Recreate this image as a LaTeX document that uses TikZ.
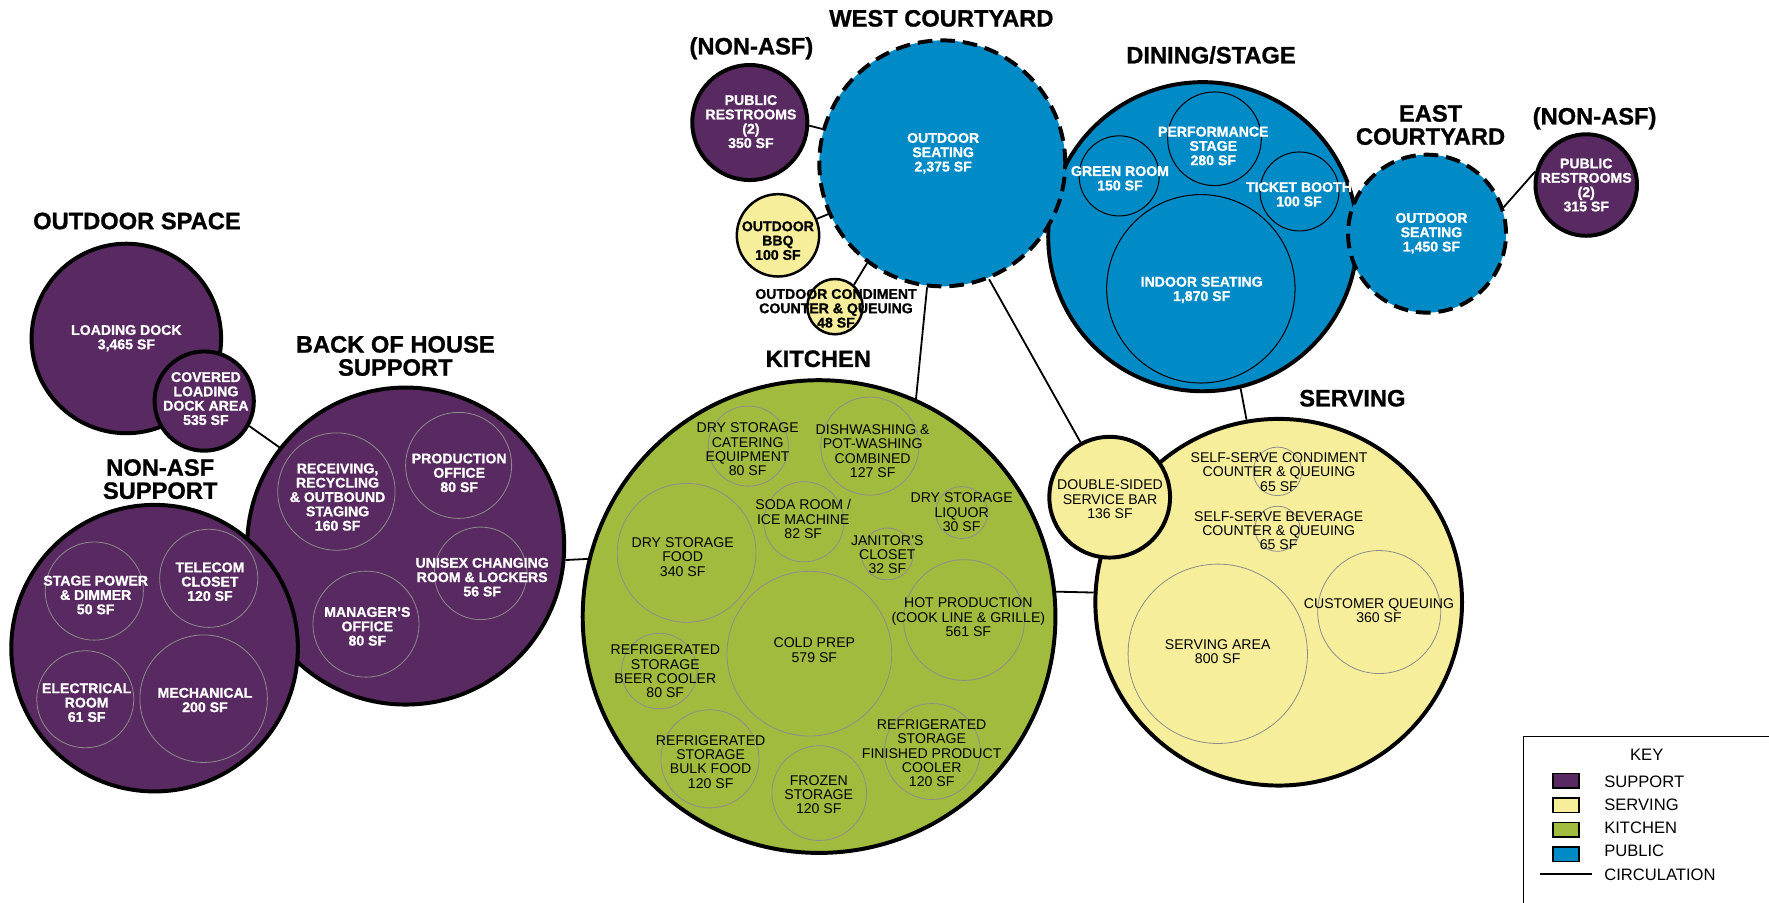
\documentclass[tikz,border=0pt]{standalone}
\usepackage{fontspec}
\setmainfont{Liberation Sans}[BoldFeatures={FakeBold=1}]
\usetikzlibrary{positioning}

\definecolor{supportpurple}{HTML}{592A61}
\definecolor{servingyellow}{HTML}{F7EE9B}
\definecolor{kitchengreen}{HTML}{A1BB3E}
\definecolor{publicblue}{HTML}{008AC6}
\definecolor{roomgray}{HTML}{8C8C8C}

\begin{document}
\begin{tikzpicture}
[x=1pt, y=-1pt,
link/.style={line width=1.6pt},
zone/.style={
  circle, draw=black, line width=3.5pt, inner sep=0pt
  }
]

\tikzstyle{supportzone}  =  [zone, fill=supportpurple]
\tikzstyle{servezone}  =  [zone, fill=servingyellow]
\tikzstyle{kitchenzone}  =  [zone, fill=kitchengreen]
\tikzstyle{publiczone}  =  [zone, fill=publicblue]
\tikzstyle{courtyard}  =  [publiczone, dash pattern=on 13pt off 7pt]
\tikzstyle{smallzone}  =  [servezone, line width=2.2pt]
\tikzstyle{room}  =  [circle, draw=roomgray, line width=0.7pt, inner sep=0pt]
\tikzstyle{publicroom}  =  [circle, draw=black, line width=0.9pt, inner sep=0pt]
\tikzstyle{wtext}  =  [align=center, inner sep=0pt, text=white, font=\fontsize{12.5}{12.7}\selectfont\bfseries]
\tikzstyle{btext}  =  [wtext, text=black]
\tikzstyle{ntext}  =  [align=center, inner sep=0pt, font=\fontsize{12.5}{12.7}\selectfont]
\tikzstyle{areatitle}  =  [align=center, inner sep=0pt, font=\fontsize{21}{20.5}\selectfont\bfseries]
\tikzstyle{keytext}  =  [inner sep=0pt, anchor=west, font=\fontsize{14.7}{15}\selectfont]
\tikzstyle{swatch}  =  [rectangle, draw=black, line width=1.5pt, minimum width=23pt, minimum height=13pt, inner sep=0pt]

\useasboundingbox (0,0) rectangle (1568,800);
\clip (0,0) rectangle (1568,800);

% outdoor space
\node[supportzone, minimum size=168pt] (dock) at (112,300) {};
\node[supportzone, minimum size=88pt] (covered) at (181,355.5) {};

% back of house
\node[supportzone, minimum size=281pt] (boh) at (359.6,484) {};
\node[room, minimum size=104pt] (recv) at (298.2,435.7) {};
\node[room, minimum size=94pt] (prodoff) at (406.5,412.5) {};
\node[room, minimum size=82pt] (unisex) at (426,508.2) {};
\node[room, minimum size=94pt] (mgr) at (324.4,553.2) {};

% non-asf support
\node[supportzone, minimum size=254pt] (nonasf) at (137,574.5) {};
\node[room, minimum size=87pt] (stagepwr) at (83.6,523.9) {};
\node[room, minimum size=87pt] (telecom) at (185,512.6) {};
\node[room, minimum size=86pt] (elec) at (75.6,619.8) {};
\node[room, minimum size=113pt] (mech) at (180.5,619.3) {};

% kitchen
\node[kitchenzone, minimum size=419pt] (kitchen) at (726,546.5) {};
\node[room, minimum size=71pt] (catering) at (663.3,395.4) {};
\node[room, minimum size=87pt] (dishwash) at (771,395.4) {};
\node[room, minimum size=123pt] (dryfood) at (608.6,490) {};
\node[room, minimum size=71pt] (soda) at (712.6,462.5) {};
\node[room, minimum size=46pt] (liquor) at (852.4,454.3) {};
\node[room, minimum size=46pt] (janitor) at (786.5,491) {};
\node[room, minimum size=146pt] (coldprep) at (717.4,579.4) {};
\node[room, minimum size=107pt] (hotprod) at (854.5,549.6) {};
\node[room, minimum size=67pt] (beer) at (584.4,594.8) {};
\node[room, minimum size=87pt] (bulk) at (629.3,672.6) {};
\node[room, minimum size=84pt] (frozen) at (726.2,703) {};
\node[room, minimum size=85pt] (finished) at (826.4,666.1) {};

% serving
\node[servezone, minimum size=325pt] (serving) at (1133.4,533.8) {};
\node[room, minimum size=43pt] (condiment) at (1132.3,417.8) {};
\node[room, minimum size=40pt] (beverage) at (1132.3,468.7) {};
\node[room, minimum size=159pt] (servarea) at (1079.4,579.5) {};
\node[room, minimum size=109pt] (queue) at (1222.5,542.5) {};
\node[servezone, minimum size=107pt] (bar) at (983.6,440.7) {};

% dining / stage
\node[publiczone, minimum size=274pt] (dining) at (1066.1,209.8) {};
\node[publicroom, minimum size=71pt] (green) at (992,155.9) {};
\node[publicroom, minimum size=83pt] (perf) at (1076.5,123) {};
\node[publicroom, minimum size=70pt] (ticket) at (1151.8,169.7) {};
\node[publicroom, minimum size=167pt] (indoor) at (1064.4,256) {};

% courtyards
\node[courtyard, minimum size=218pt] (westyard) at (835.2,144.8) {};
\node[courtyard, minimum size=140pt] (eastyard) at (1264.9,207.1) {};

\node[supportzone, minimum size=102pt] (restW) at (664.6,108.6) {};
\node[supportzone, minimum size=90pt] (restE) at (1406,164) {};
\node[smallzone, minimum size=73pt] (bbq) at (689.6,208.6) {};
\node[smallzone, minimum size=49pt] (outcond) at (740.1,271.8) {};

%edges

\draw[link] (covered.-29) -- (boh.142);
\draw[link] (boh.-5) -- (kitchen.166);
\draw[link] (kitchen.6) -- (serving.177);
\draw[link] (westyard.263) -- (kitchen.66);
\draw[link] (westyard.-68) -- (bar.118);
\draw[link] (dining.-76) -- (serving.100);
\draw[link] (restW.-3) -- (westyard.164);
\draw[link] (bbq.23) -- (westyard.204);
\draw[link] (outcond.49) -- (westyard.233);
\draw[link] (eastyard.19) -- (restE.165);

% labels
\node[wtext] (dock-t) at (112,299.8) {LOADING DOCK\\3,465 SF};
\node[wtext] (covered-t) at (182.5,353.3) {COVERED\\LOADING\\DOCK AREA\\535 SF};
\node[wtext] (recv-t) at (299.2,440.6) {RECEIVING,\\RECYCLING\\\& OUTBOUND\\STAGING\\160 SF};
\node[wtext] (prodoff-t) at (407,419.1) {PRODUCTION\\OFFICE\\80 SF};
\node[wtext] (unisex-t) at (427.4,511.6) {UNISEX CHANGING\\ROOM \& LOCKERS\\56 SF};
\node[wtext] (mgr-t) at (325.6,555.2) {MANAGER'S\\OFFICE\\80 SF};
\node[wtext] (stagepwr-t) at (84.8,527.4) {STAGE POWER\\\& DIMMER\\50 SF};
\node[wtext] (telecom-t) at (186.1,515.6) {TELECOM\\CLOSET\\120 SF};
\node[wtext] (elec-t) at (76.8,622.8) {ELECTRICAL\\ROOM\\61 SF};
\node[wtext] (mech-t) at (181.7,620.5) {MECHANICAL\\200 SF};

\node[ntext] (catering-t) at (662.7,398.4) {DRY STORAGE\\CATERING\\EQUIPMENT\\80 SF};
\node[ntext] (dishwash-t) at (773.5,400) {DISHWASHING \&\\POT-WASHING\\COMBINED\\127 SF};
\node[ntext] (dryfood-t) at (605.1,493.7) {DRY STORAGE\\FOOD\\340 SF};
\node[ntext] (soda-t) at (712,460.1) {SODA ROOM /\\ICE MACHINE\\82 SF};
\node[ntext] (liquor-t) at (852.4,454) {DRY STORAGE\\LIQUOR\\30 SF};
\node[ntext] (janitor-t) at (786.5,491.6) {JANITOR'S\\CLOSET\\32 SF};
\node[ntext] (coldprep-t) at (721.8,576.4) {COLD PREP\\579 SF};
\node[ntext] (hotprod-t) at (858.3,547.1) {HOT PRODUCTION\\(COOK LINE \& GRILLE)\\561 SF};
\node[ntext] (beer-t) at (589.7,595.3) {REFRIGERATED\\STORAGE\\BEER COOLER\\80 SF};
\node[ntext] (bulk-t) at (629.9,675.3) {REFRIGERATED\\STORAGE\\BULK FOOD\\120 SF};
\node[ntext] (frozen-t) at (725.7,704.3) {FROZEN\\STORAGE\\120 SF};
\node[ntext] (finished-t) at (825.8,667.6) {REFRIGERATED\\STORAGE\\FINISHED PRODUCT\\COOLER\\120 SF};

\node[ntext] (condiment-t) at (1133.7,418.4) {SELF-SERVE CONDIMENT\\COUNTER \& QUEUING\\65 SF};
\node[ntext] (beverage-t) at (1133.4,470.4) {SELF-SERVE BEVERAGE\\COUNTER \& QUEUING\\65 SF};
\node[ntext] (servarea-t) at (1079.3,577.6) {SERVING AREA\\800 SF};
\node[ntext] (queue-t) at (1222.3,541.3) {CUSTOMER QUEUING\\360 SF};
\node[ntext] (bar-t) at (983.9,442.6) {DOUBLE-SIDED\\SERVICE BAR\\136 SF};

\node[wtext] (green-t) at (992.7,158) {GREEN ROOM\\150 SF};
\node[wtext] (perf-t) at (1075.4,129.4) {PERFORMANCE\\STAGE\\280 SF};
\node[wtext] (ticket-t) at (1151.4,172.2) {TICKET BOOTH\\100 SF};
\node[wtext] (indoor-t) at (1065.1,257) {INDOOR SEATING\\1,870 SF};
\node[wtext] (westyard-t) at (836,135.9) {OUTDOOR\\SEATING\\2,375 SF};
\node[wtext] (eastyard-t) at (1268.8,206.8) {OUTDOOR\\SEATING\\1,450 SF};
\node[wtext] (restW-t) at (665.6,107.8) {PUBLIC\\RESTROOMS\\(2)\\350 SF};
\node[wtext] (restE-t) at (1406,164) {PUBLIC\\RESTROOMS\\(2)\\315 SF};
\node[btext] (bbq-t) at (689.5,213.3) {OUTDOOR\\BBQ\\100 SF};
\node[btext] (outcond-t) at (741,273.3) {OUTDOOR CONDIMENT\\COUNTER \& QUEUING\\48 SF};

% titles
\node[areatitle] (outdoor-h) at (121.4,195.9) {OUTDOOR SPACE};
\node[areatitle] (boh-h) at (350.4,315.5) {BACK OF HOUSE\\SUPPORT};
\node[areatitle] (nonasf-h) at (142,424.7) {NON-ASF\\SUPPORT};
\node[areatitle] (kitchen-h) at (725.3,318) {KITCHEN};
\node[areatitle] (restW-h) at (666,42.8) {(NON-ASF)};
\node[areatitle] (westyard-h) at (834.4,16.3) {WEST COURTYARD};
\node[areatitle] (dining-h) at (1073.4,48.8) {DINING/STAGE};
\node[areatitle] (eastyard-h) at (1268,110.8) {EAST\\COURTYARD};
\node[areatitle] (restE-h) at (1413.4,104.9) {(NON-ASF)};
\node[areatitle] (serving-h) at (1198.7,353) {SERVING};

% key
\draw[line width=0.8pt] (1350.2,820) |- (1600,653);
\node[keytext, anchor=center] (keytitle) at (1459.6,668.6) {KEY};
\foreach \col/\name [count=\i] in {supportpurple/SUPPORT, servingyellow/SERVING, kitchengreen/KITCHEN, publicblue/PUBLIC}
{
  \node[swatch, fill=\col] (key\i) at (1387.9,670.4+21.7*\i) {};
  \node[keytext] (keyname\i) at (1421.8,672.5+20.5*\i) {\name};
}
\coordinate (circA) at (1365,775);
\coordinate (circB) at (1410.8,775);
\draw[line width=1.8pt] (circA) -- (circB);
\node[keytext] (keyname5) at (1421.8,775) {CIRCULATION};

\end{tikzpicture}
\end{document}
